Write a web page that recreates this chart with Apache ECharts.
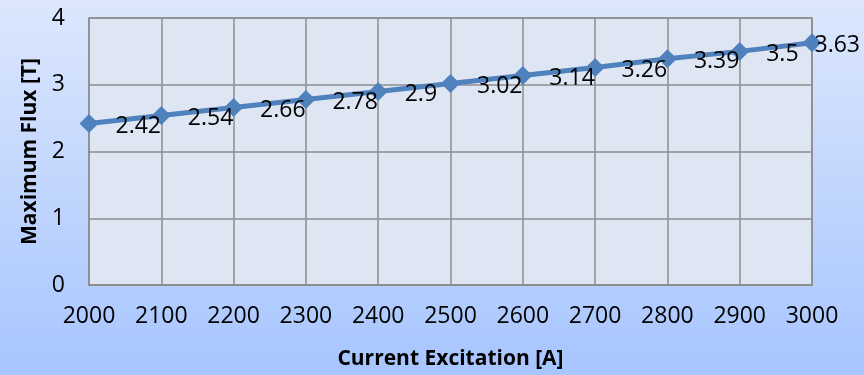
<!DOCTYPE html>
<html>
<head>
<meta charset="utf-8">
<style>
  html, body { margin: 0; padding: 0; }
  #chart { width: 864px; height: 375px; }
</style>
<script src="https://cdn.jsdelivr.net/npm/echarts@6/dist/echarts.min.js"></script>
</head>
<body>
<div id="chart"></div>
<script>
// Maximum flux versus excitation current
const currents = ['2000', '2100', '2200', '2300', '2400', '2500', '2600', '2700', '2800', '2900', '3000'];
const maxFlux = [2.42, 2.54, 2.66, 2.78, 2.9, 3.02, 3.14, 3.26, 3.39, 3.5, 3.63];
const yTicks = [0, 1, 2, 3, 4];

const FONT = '"Open Sans", sans-serif';
const lastIndex = maxFlux.length - 1;

const chart = echarts.init(document.getElementById('chart'));
chart.setOption({
  animation: false,
  backgroundColor: {
    type: 'linear', x: 0, y: 0, x2: 0, y2: 1,
    colorStops: [
      { offset: 0, color: '#dce7fd' },
      { offset: 1, color: '#a7c5fe' }
    ]
  },
  grid: {
    left: 89, right: 52, top: 18, bottom: 89,
    show: true,
    backgroundColor: '#dfe6f3',
    borderColor: '#8c8c8c',
    borderWidth: 1.5
  },
  xAxis: {
    type: 'category',
    data: currents,
    boundaryGap: false,
    name: 'Current Excitation [A]',
    nameLocation: 'middle',
    nameGap: 64,
    nameTextStyle: { fontFamily: FONT, fontWeight: 'bold', fontSize: 21, color: '#000' },
    axisLine: { lineStyle: { color: '#8c8c8c', width: 1.5 } },
    axisTick: { show: false },
    axisLabel: { fontFamily: FONT, fontSize: 23, color: '#000', margin: 20 },
    splitLine: { show: true, lineStyle: { color: '#8c8c8c', width: 1.5 } }
  },
  yAxis: {
    type: 'value',
    min: yTicks[0],
    max: yTicks[yTicks.length - 1],
    interval: 1,
    name: 'Maximum Flux [T]',
    nameLocation: 'middle',
    nameGap: 47,
    nameTextStyle: { fontFamily: FONT, fontWeight: 'bold', fontSize: 21, color: '#000' },
    axisLine: { show: false },
    axisTick: { show: false },
    axisLabel: { fontFamily: FONT, fontSize: 23, color: '#000', margin: 24 },
    splitLine: { show: true, lineStyle: { color: '#8c8c8c', width: 1.5 } }
  },
  series: [{
    type: 'line',
    data: maxFlux.map((v, i) => ({
      value: v,
      label: i === lastIndex ? { distance: -7 } : undefined
    })),
    symbol: 'diamond',
    symbolSize: 19,
    lineStyle: { color: '#4f81bd', width: 5 },
    itemStyle: { color: '#4f81bd' },
    label: {
      show: true,
      position: 'right',
      distance: 17,
      offset: [0, 3],
      fontFamily: FONT,
      fontSize: 23,
      color: '#000'
    },
    z: 3
  }]
});
</script>
</body>
</html>
